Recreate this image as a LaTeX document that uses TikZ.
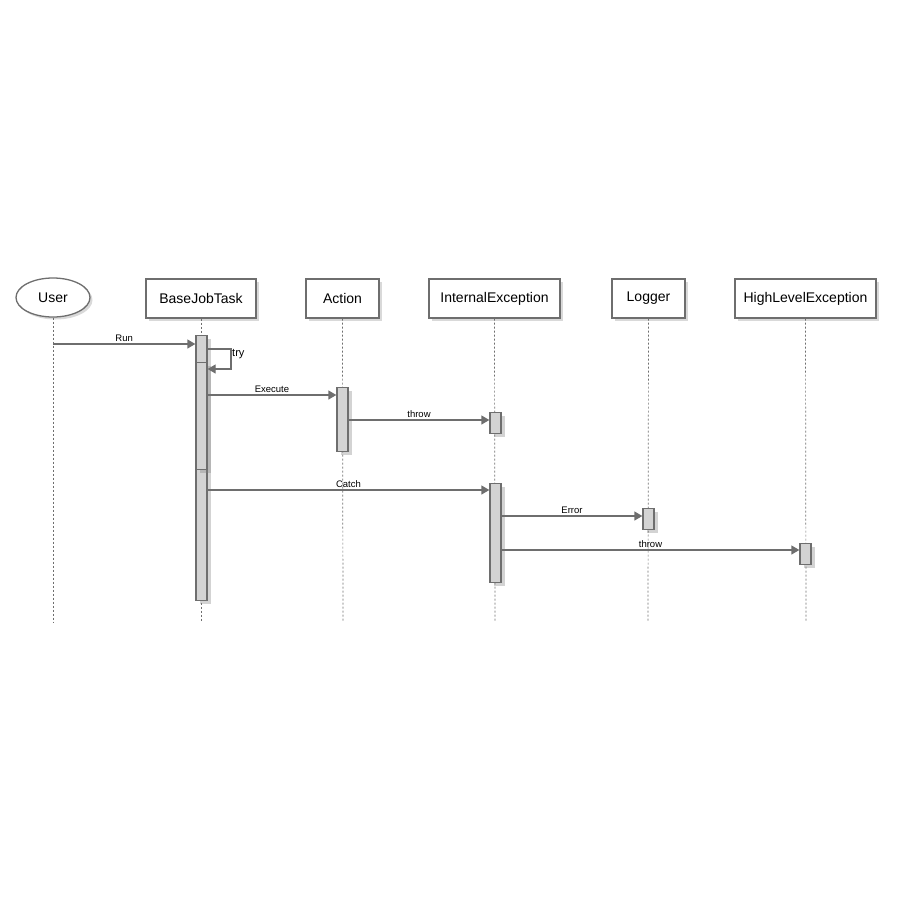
\documentclass[tikz,border=0pt]{standalone}
\usepackage{fontspec}
\setmainfont{Liberation Sans}
\usetikzlibrary{shapes.geometric,shadows,arrows.meta}
\definecolor{ln}{HTML}{6E6E6E}
\definecolor{act}{HTML}{D3D3D3}
\tikzset{
  x=1pt,y=-1pt,
  part/.style={draw=ln,line width=1.3pt,fill=white,minimum height=39pt,inner sep=2pt,font=\fontsize{14}{16}\selectfont,
    drop shadow={opacity=0.3,shadow xshift=2.5pt,shadow yshift=-2.5pt}},
  lifeline/.style={draw=ln,dash pattern=on 2pt off 2pt,line width=0.7pt},
  actbar/.style={draw=ln,line width=1.3pt,fill=act,minimum width=11pt,inner sep=0pt,anchor=north,
    drop shadow={opacity=0.35,shadow xshift=3.5pt,shadow yshift=-3.5pt}},
  msg/.style={draw=ln,line width=1.3pt,-{Triangle[length=8pt,width=9pt]}},
  lbl/.style={font=\fontsize{9.5}{11}\selectfont,text=black,inner sep=1pt}
}
\begin{document}
\begin{tikzpicture}
\useasboundingbox (0,0) rectangle (900,900);
% participants
\node[part,ellipse,minimum width=74pt,minimum height=39pt] (user) at (53,297.5) {User};
\node[part,minimum width=110pt] (bjt) at (201,298.5) {BaseJobTask};
\node[part,minimum width=73pt] (action) at (342.5,298.5) {Action};
\node[part,minimum width=131pt] (iex) at (494.5,298.5) {InternalException};
\node[part,minimum width=73pt] (logger) at (648.5,298.5) {Logger};
\node[part,minimum width=141pt] (hlex) at (805.5,298.5) {HighLevelException};
% lifeline ends
\coordinate (userE) at (53,622);
\coordinate (bjtE) at (201,622);
\coordinate (actionE) at (343,622);
\coordinate (iexE) at (495,622);
\coordinate (loggerE) at (648,622);
\coordinate (hlexE) at (806,622);
\draw[lifeline] (user.south) -- (userE);
\draw[lifeline] (bjt.south) -- (bjtE);
\draw[lifeline] (action.south) -- (actionE);
\draw[lifeline] (iex.south) -- (iexE);
\draw[lifeline] (logger.south) -- (loggerE);
\draw[lifeline] (hlex.south) -- (hlexE);
% activations
\node[actbar,minimum height=265pt] (a1) at (201.5,335) {};
\node[actbar,minimum height=107pt] (a2) at (201.5,362) {};
\node[actbar,minimum height=64pt] (a3) at (342.5,387) {};
\node[actbar,minimum height=21pt] (a4) at (495.5,412) {};
\node[actbar,minimum height=99pt] (a5) at (495.5,483) {};
\node[actbar,minimum height=21pt] (a6) at (648.5,508) {};
\node[actbar,minimum height=21pt] (a7) at (805.5,543) {};
% messages
\draw[msg] (userE |- 0,344) -- (a1.west |- 0,344) node[lbl,midway,above=1pt] (lrun) {Run};
\coordinate (tryR1) at (231,349);
\coordinate (tryR2) at (231,369);
\draw[msg] (a1.east |- tryR1) -- (tryR1) -- (tryR2) -- (a2.east |- tryR2);
\node[lbl,anchor=west,font=\fontsize{11}{12}\selectfont] (ltry) at (231,354) {try};
\draw[msg] (a2.east |- 0,395) -- (a3.west |- 0,395) node[lbl,midway,above=1pt] (lexe) {Execute};
\draw[msg] (a3.east |- 0,420) -- (a4.west |- 0,420) node[lbl,midway,above=1pt] (lthrow1) {throw};
\draw[msg] (a1.east |- 0,490) -- (a5.west |- 0,490) node[lbl,midway,above=1pt] (lcatch) {Catch};
\draw[msg] (a5.east |- 0,516) -- (a6.west |- 0,516) node[lbl,midway,above=1pt] (lerr) {Error};
\draw[msg] (a5.east |- 0,550) -- (a7.west |- 0,550) node[lbl,midway,above=1pt] (lthrow2) {throw};
\end{tikzpicture}
\end{document}
